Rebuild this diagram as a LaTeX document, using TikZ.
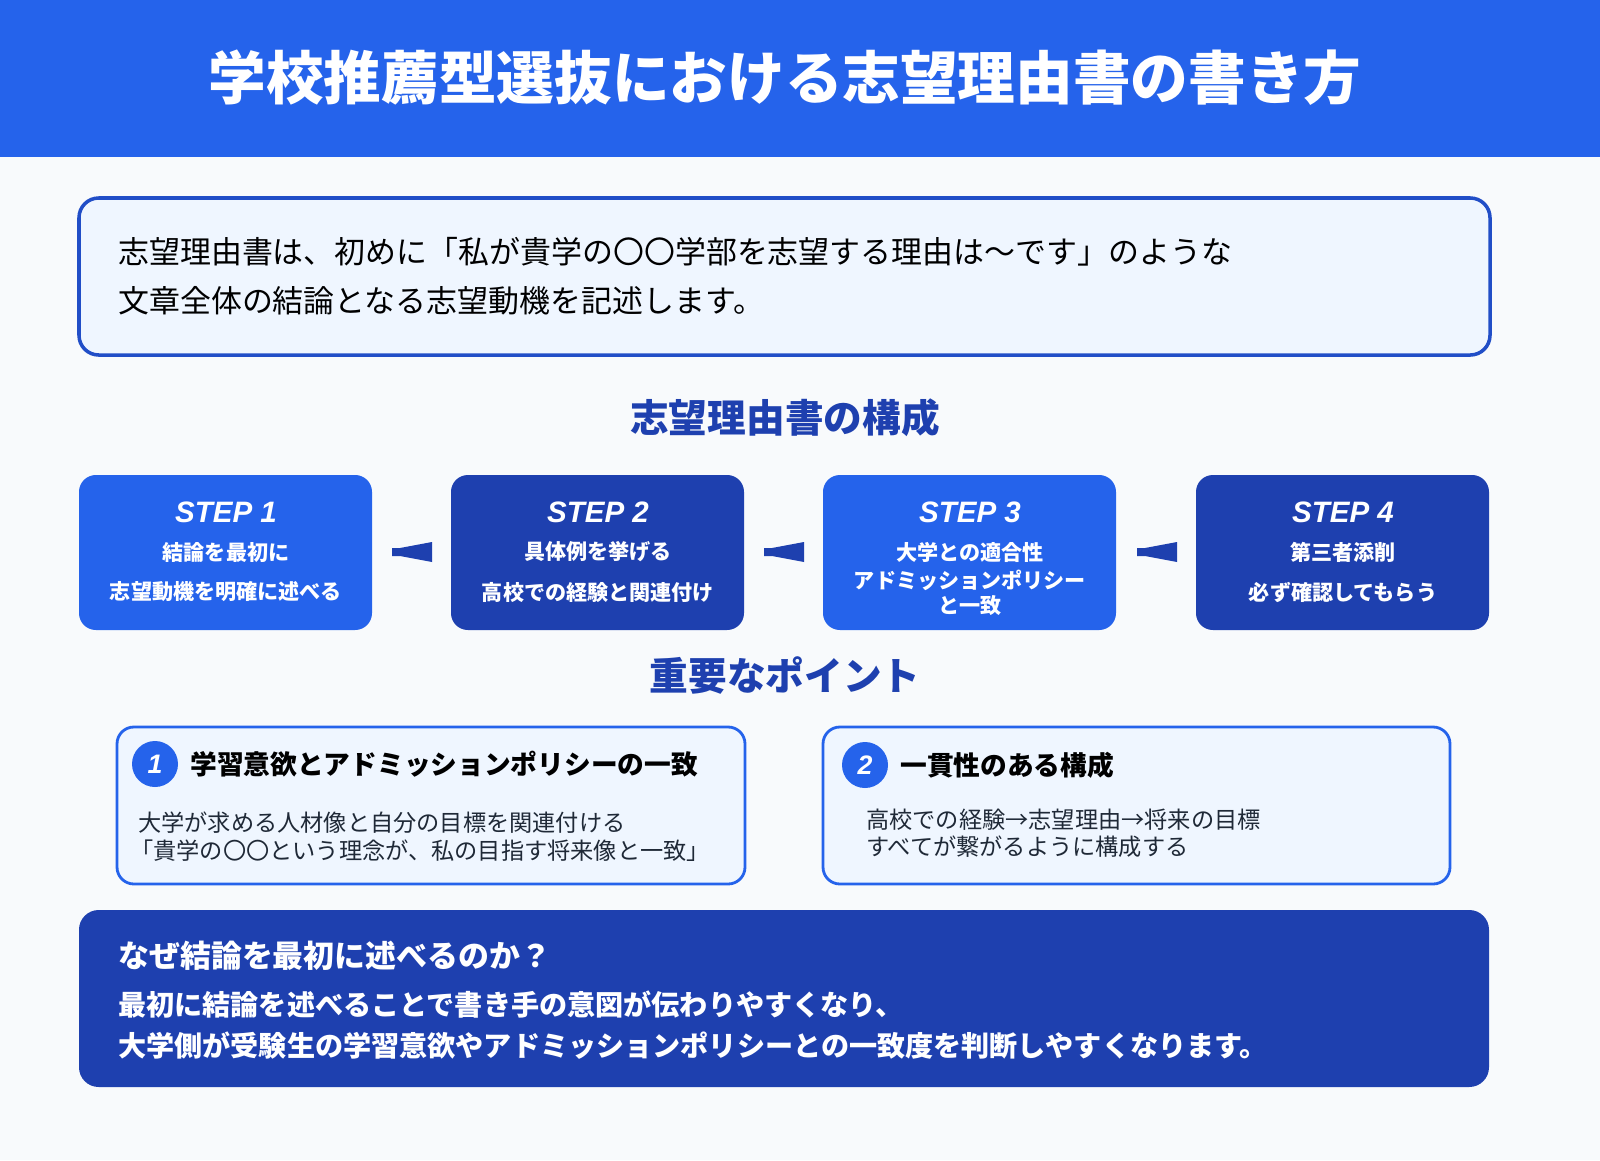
\documentclass[tikz,border=0pt]{standalone}
\usepackage{fontspec}
\setmainfont{Noto Sans CJK JP}
\newfontfamily\latinfont{Liberation Sans}
\definecolor{hdrblue}{HTML}{2563EB}
\definecolor{darkblue}{HTML}{1E40AF}
\definecolor{pagebg}{HTML}{F8FAFC}
\definecolor{lightbox}{HTML}{EFF6FF}
\definecolor{inktext}{HTML}{1F2937}
\begin{document}
\begin{tikzpicture}[x=0.025cm,y=-0.025cm,
  every node/.style={inner sep=0pt},
  stepbox/.style={rounded corners=12pt},
  steptitle/.style={text=white,font=\latinfont\bfseries\itshape\fontsize{21}{25}\selectfont},
  stepline/.style={text=white,font=\bfseries\fontsize{15}{18}\selectfont},
  heading/.style={text=darkblue,font=\bfseries\fontsize{27.5}{32}\selectfont},
  pointbox/.style={draw=hdrblue,line width=2pt,fill=lightbox,rounded corners=12pt},
  pointtitle/.style={anchor=west,text=black,font=\bfseries\fontsize{19}{23}\selectfont},
  pointline/.style={anchor=west,text=inktext,font=\fontsize{16.5}{20}\selectfont},
  wedge/.style={fill=darkblue}]
\fill[pagebg] (0,0) rectangle (1600,1160);
\fill[hdrblue] (0,0) rectangle (1600,157);
\node (title) [text=white,font=\bfseries\fontsize{41}{48}\selectfont] at (785,78) {学校推薦型選抜における志望理由書の書き方};
% intro
\draw[pointbox,line width=2.5pt,draw=darkblue!60!hdrblue,rounded corners=14pt] (79,198) rectangle (1490,355);
\node (intro1) [anchor=west,text=black,font=\fontsize{22}{26}\selectfont] at (118,252) {志望理由書は、初めに「私が貴学の〇〇学部を志望する理由は〜です」のような};
\node (intro2) [anchor=west,text=black,font=\fontsize{22}{26}\selectfont] at (118,301) {文章全体の結論となる志望動機を記述します。};
\node (struct) [heading] at (785,418) {志望理由書の構成};
% steps
\fill[stepbox,hdrblue] (79,475) rectangle (372,630);
\fill[stepbox,darkblue] (451,475) rectangle (744,630);
\fill[stepbox,hdrblue] (823,475) rectangle (1116,630);
\fill[stepbox,darkblue] (1196,475) rectangle (1489,630);
\node (s1) [steptitle] at (226,512) {STEP 1};
\node (s1a) [stepline] at (226,552) {結論を最初に};
\node (s1b) [stepline] at (226,592) {志望動機を明確に述べる};
\node (s2) [steptitle] at (598,512) {STEP 2};
\node (s2a) [stepline] at (598,552) {具体例を挙げる};
\node (s2b) [stepline] at (598,592) {高校での経験と関連付け};
\node (s3) [steptitle] at (970,512) {STEP 3};
\node (s3a) [stepline] at (970,552) {大学との適合性};
\node (s3b) [stepline] at (970,580) {アドミッションポリシー};
\node (s3c) [stepline] at (970,605) {と一致};
\node (s4) [steptitle] at (1343,512) {STEP 4};
\node (s4a) [stepline] at (1343,552) {第三者添削};
\node (s4b) [stepline] at (1343,592) {必ず確認してもらう};
\foreach \x in {392,764,1137}
  \fill[wedge] (\x,548) -- (\x+8,548) -- (\x+40,542) -- (\x+40,562) -- (\x+8,556) -- (\x,556) -- cycle;
\node (points) [heading] at (785,676) {重要なポイント};
% points
\draw[pointbox] (117,727) rectangle (745,884);
\fill[hdrblue] (155,764) circle (23);
\node (n1) [text=white,font=\latinfont\bfseries\itshape\fontsize{19}{23}\selectfont] at (155,764) {1};
\node (p1) [pointtitle] at (190,764) {学習意欲とアドミッションポリシーの一致};
\node (p1a) [pointline] at (138,823) {大学が求める人材像と自分の目標を関連付ける};
\node (p1b) [pointline] at (130,851) {「貴学の〇〇という理念が、私の目指す将来像と一致」};
\draw[pointbox] (823,727) rectangle (1450,884);
\fill[hdrblue] (865,765) circle (23);
\node (n2) [text=white,font=\latinfont\bfseries\itshape\fontsize{19}{23}\selectfont] at (865,765) {2};
\node (p2) [pointtitle] at (900,765) {一貫性のある構成};
\node (p2a) [pointline] at (866,820) {高校での経験→志望理由→将来の目標};
\node (p2b) [pointline] at (866,847) {すべてが繋がるように構成する};
% why
\fill[stepbox,darkblue,rounded corners=14pt] (79,910) rectangle (1489,1087);
\node (why) [anchor=west,text=white,font=\bfseries\fontsize{22}{26}\selectfont] at (118,956) {なぜ結論を最初に述べるのか？};
\node (why1) [anchor=west,text=white,font=\bfseries\fontsize{20}{24}\selectfont] at (118,1005) {最初に結論を述べることで書き手の意図が伝わりやすくなり、};
\node (why2) [anchor=west,text=white,font=\bfseries\fontsize{20}{24}\selectfont] at (118,1046) {大学側が受験生の学習意欲やアドミッションポリシーとの一致度を判断しやすくなります。};
\end{tikzpicture}
\end{document}
